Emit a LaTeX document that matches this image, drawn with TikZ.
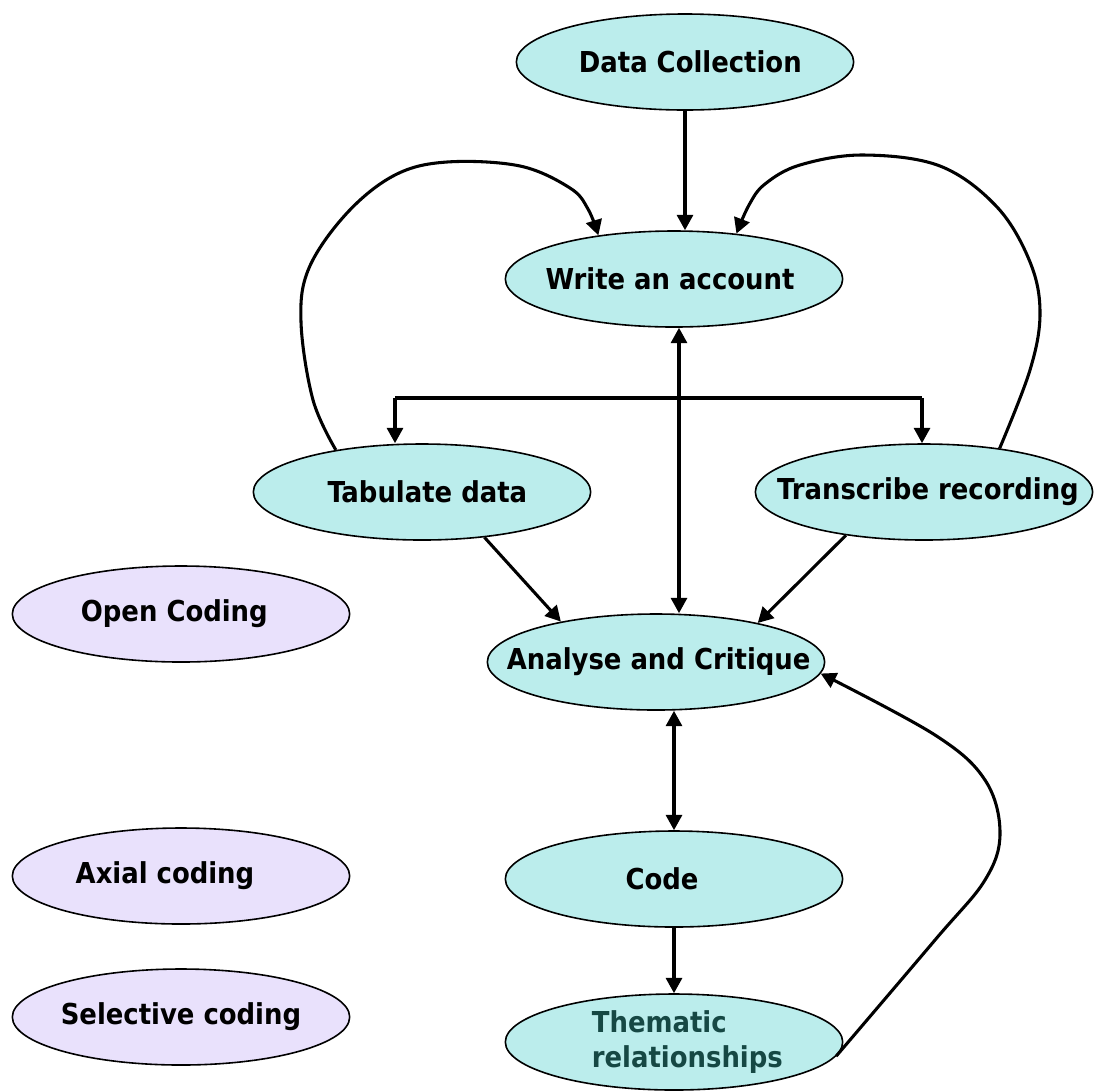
\documentclass[tikz,border=0pt]{standalone}
\usepackage{fontspec}
\setmainfont{DejaVu Sans Condensed}[BoldFont={DejaVu Sans Condensed Bold}]
\usetikzlibrary{shapes.geometric,arrows.meta}
\definecolor{stagefill}{RGB}{187,237,236}
\definecolor{codingfill}{RGB}{233,225,252}
\definecolor{themetext}{RGB}{22,72,68}
\tikzset{
  stage/.style={ellipse,draw=black,line width=1.2pt,fill=stagefill,
    minimum width=253pt,minimum height=72pt,inner sep=0pt},
  coding/.style={stage,fill=codingfill},
  txt/.style={font=\bfseries\fontsize{21.6}{26}\selectfont,inner sep=0pt},
  tip/.tip={Triangle[length=11.5pt,width=12pt]},
  link/.style={line width=2.3pt,-tip},
  both/.style={line width=2.3pt,tip-tip},
  plain/.style={line width=2.3pt}
}
\begin{document}
\begin{tikzpicture}[x=0.75pt,y=-0.75pt]
\useasboundingbox (0,0) rectangle (1098,1090);

% main stages
\node[stage,label={[txt,xshift=4pt]center:Data Collection}] (dc) at (685,62) {};
\node[stage,label={[txt,xshift=-3pt]center:Write an account}] (wa) at (674,279) {};
\node[stage,label={[txt,xshift=4pt]center:Tabulate data}] (tab) at (422,492) {};
\node[stage,label={[txt,xshift=3pt]center:Transcribe recording}] (tr) at (924,492) {};
\node[stage,label={[txt,xshift=2pt]center:Analyse and Critique}] (ac) at (656,662) {};
\node[stage,label={[txt,xshift=-9pt]center:Code}] (code) at (674,879) {};
\node[stage,label={[txt,text=themetext,align=left,xshift=10pt]center:Thematic\\relationships}] (th) at (674,1042) {};

% coding levels
\node[coding,label={[txt,xshift=-5pt]center:Open Coding}] (open) at (181,614) {};
\node[coding,label={[txt,xshift=-12pt]center:Axial coding}] (axial) at (181,876) {};
\node[coding,label={[txt]center:Selective coding}] (sel) at (181,1017) {};

% straight connectors
\draw[link] (dc.south) -- (dc.south |- wa.north);
\draw[both] ([xshift=3.75pt]wa.south) coordinate (v1) -- (v1 |- ac.north);
\draw[both] (code.north) -- (code.north |- ac.south);
\draw[link] (code.south) -- (th.north);

% split bar to the two recording branches
\coordinate (barL) at (395,398);
\coordinate (barR) at (922,398);
\draw[plain] (barL) -- (barR);
\draw[link] (barL) -- (barL |- tab.north);
\draw[link] (barR) -- (barR |- tr.north);

% branches into analysis
\draw[link] (tab.-36) -- (ac.157);
\draw[link] (tr.-151) -- (ac.21);

% feedback loops
\draw[link] plot[smooth,tension=0.6] coordinates {(tab.154) (313,400) (301,322) (309,268)
  (347,213) (395,175) (447,162) (520,166) (570,188) (588,209) (wa.150)};
\draw[link] plot[smooth,tension=0.6] coordinates {(tr.30) (1030,370) (1040,313) (1030,262)
  (997,207) (940,166) (863,155) (800,165) (765,184) (749,205) (wa.36)};
\draw[link] plot[smooth,tension=0.6] coordinates {(th.-5) (935,940) (985,880) (1000,833)
  (985,780) (935,735) (ac.-4)};
\end{tikzpicture}
\end{document}
